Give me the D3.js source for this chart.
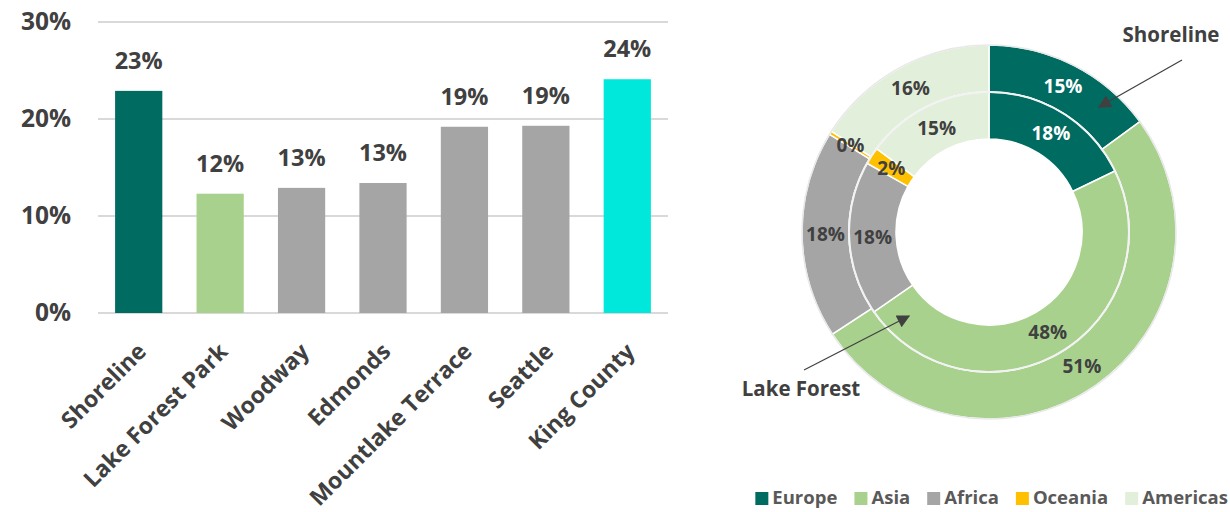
<!DOCTYPE html>
<html>
<head>
<meta charset="utf-8">
<script src="https://cdn.jsdelivr.net/npm/d3@7"></script>
<style>
  html, body { margin: 0; padding: 0; background: #ffffff; }
  svg { display: block; }
  text { font-family: "Open Sans", Lato, sans-serif; font-weight: 700; }
</style>
</head>
<body>
<svg id="chart" width="1230" height="512"></svg>
<script>
// Share of foreign-born residents by place
const places = ["Shoreline", "Lake Forest Park", "Woodway", "Edmonds", "Mountlake Terrace", "Seattle", "King County"];
const shares = [0.229, 0.123, 0.129, 0.134, 0.192, 0.193, 0.241];
const barColors = ["#006B61", "#A9D18E", "#A5A5A5", "#A5A5A5", "#A5A5A5", "#A5A5A5", "#00E8DC"];
const yTicks = [0, 0.1, 0.2, 0.3];

// Region of birth, Shoreline (outer ring) vs Lake Forest Park (inner ring)
const regions = ["Europe", "Asia", "Africa", "Oceania", "Americas"];
const regionColors = ["#006B61", "#A9D18E", "#A5A5A5", "#FFC000", "#E2EFDA"];
const shorelineMix = [15, 51, 18, 0.3, 16];
const lakeForestMix = [18, 48, 18, 2, 15];

const svg = d3.select("#chart");
const ink = "#404040";
const font = "'Open Sans', Lato, sans-serif";

// ---------- Bar chart ----------
const x = d3.scaleBand().domain(places).range([98, 668]).paddingInner(0.42).paddingOuter(0.21);
const y = d3.scaleLinear().domain([0, 0.30]).range([313, 22]);
const pct = d3.format(".0%");

const grid = svg.append("g");
grid.selectAll("line").data(yTicks).join("line")
  .attr("x1", 98).attr("x2", 668)
  .attr("y1", d => y(d)).attr("y2", d => y(d))
  .attr("stroke", "#D9D9D9").attr("stroke-width", 2);

const yAxis = svg.append("g").attr("transform", "translate(71,0)")
  .call(d3.axisLeft(y).tickValues(yTicks).tickFormat(pct).tickSize(0).tickPadding(0));
yAxis.select(".domain").remove();
yAxis.selectAll("text").attr("font-size", 24.5).attr("fill", ink)
  .style("font-family", font).style("font-weight", 700);

svg.append("g").selectAll("rect").data(places).join("rect")
  .attr("x", d => x(d)).attr("width", x.bandwidth())
  .attr("y", (d, i) => y(shares[i])).attr("height", (d, i) => y(0) - y(shares[i]))
  .attr("fill", (d, i) => barColors[i]);

svg.append("g").selectAll("text").data(places).join("text")
  .attr("x", d => x(d) + x.bandwidth() / 2)
  .attr("y", (d, i) => y(shares[i]) - 22)
  .attr("text-anchor", "middle").attr("font-size", 23.5).attr("fill", ink)
  .text((d, i) => pct(shares[i]));

const xAxis = svg.append("g").attr("transform", "translate(0,313)")
  .call(d3.axisBottom(x).tickSize(0).tickPadding(0));
xAxis.select(".domain").remove();
xAxis.selectAll("text")
  .attr("font-size", 23).attr("fill", ink)
  .style("font-family", font).style("font-weight", 700)
  .attr("text-anchor", "end").attr("dy", null).attr("y", 0)
  .attr("transform", "translate(9,40) rotate(-45)");

// ---------- Nested donut ----------
const cx = 989, cy = 232;
const pie = d3.pie().sort(null).value(d => d);
const donut = svg.append("g").attr("transform", `translate(${cx},${cy})`);

const rings = [
  { values: shorelineMix, inner: 140, outer: 187 },
  { values: lakeForestMix, inner: 93, outer: 140 }
];

rings.forEach(ring => {
  const arc = d3.arc().innerRadius(ring.inner).outerRadius(ring.outer);
  const slices = pie(ring.values);
  donut.append("g").selectAll("path").data(slices).join("path")
    .attr("d", arc)
    .attr("fill", (d, i) => regionColors[i])
    .attr("stroke", "#ffffff").attr("stroke-width", 1.5);
  const mid = (ring.inner + ring.outer) / 2;
  const labelArc = d3.arc().innerRadius(mid).outerRadius(mid);
  donut.append("g").selectAll("text").data(slices).join("text")
    .attr("transform", d => `translate(${labelArc.centroid(d)})`)
    .attr("text-anchor", "middle").attr("dy", "0.36em")
    .attr("font-size", 19)
    .attr("fill", (d, i) => i === 0 ? "#ffffff" : ink)
    .text(d => Math.round(d.data) + "%");
});

// thin rims around the rings
donut.append("circle").attr("r", 140).attr("fill", "none").attr("stroke", "#F2F2F2").attr("stroke-width", 2);
donut.append("circle").attr("r", 187).attr("fill", "none").attr("stroke", "#E8E8E8").attr("stroke-width", 1.5);

// callouts naming each ring
const defs = svg.append("defs");
defs.append("marker").attr("id", "arrowHead")
  .attr("viewBox", "0 0 10 10").attr("refX", 9).attr("refY", 5)
  .attr("markerWidth", 16).attr("markerHeight", 13)
  .attr("markerUnits", "userSpaceOnUse").attr("orient", "auto")
  .append("path").attr("d", "M0,0 L10,5 L0,10 Z").attr("fill", "#404040");

const callouts = [
  { text: "Shoreline", tx: 1171, ty: 42, from: [1182, 60], to: [1099, 107] },
  { text: "Lake Forest", tx: 801, ty: 396, from: [804, 370], to: [909, 316] }
];
callouts.forEach(c => {
  svg.append("line")
    .attr("x1", c.from[0]).attr("y1", c.from[1]).attr("x2", c.to[0]).attr("y2", c.to[1])
    .attr("stroke", "#404040").attr("stroke-width", 1.2)
    .attr("marker-end", "url(#arrowHead)");
  svg.append("text").attr("x", c.tx).attr("y", c.ty)
    .attr("text-anchor", "middle").attr("font-size", 20.5).attr("fill", ink)
    .text(c.text);
});

// ---------- Legend ----------
const legend = svg.append("g");
const items = legend.selectAll("g").data(regions).join("g");
items.append("rect").attr("width", 13).attr("height", 13).attr("y", -12)
  .attr("fill", (d, i) => regionColors[i]);
items.append("text").attr("x", 17).attr("y", 0)
  .attr("font-size", 18.5).attr("fill", "#595959").text(d => d);
let widths = [];
items.each(function () { widths.push(this.getBBox().width); });
const gap = 17;
const total = d3.sum(widths) + gap * (widths.length - 1);
let cursor = 1228 - total;
items.attr("transform", (d, i) => {
  const t = `translate(${cursor},504)`;
  cursor += widths[i] + gap;
  return t;
});
</script>
</body>
</html>
